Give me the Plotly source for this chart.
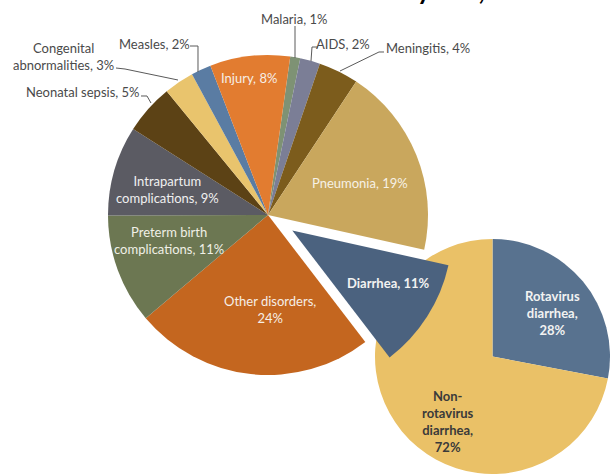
import plotly.graph_objects as go

W, H = 610, 474

# ---- data ----
causes = ["Malaria", "AIDS", "Meningitis", "Pneumonia", "Diarrhea", "Other disorders",
          "Preterm birth complications", "Intrapartum complications", "Neonatal sepsis",
          "Congenital abnormalities", "Measles", "Injury"]
shares = [1, 2, 4, 19, 11, 24, 11, 9, 5, 3, 2, 8]

diarrhea_types = ["Rotavirus diarrhea", "Non-rotavirus diarrhea"]
diarrhea_shares = [28, 72]

title_text = "Causes of child deaths under 5 years, 2008"

# ---- styling ----
main_colors = ["#7E9274", "#7B7E96", "#7C5C1C", "#C9A75D", "#4B627F", "#C4661F",
               "#6C7752", "#5B5B63", "#5C4215", "#E9C46D", "#5A7CA3", "#E27C30"]
sub_colors = ["#58728F", "#EAC167"]
pulls = [0.18 if c == "Diarrhea" else 0 for c in causes]


def px(x, y):
    return x / W, 1 - y / H


def dom(x0, y0, x1, y1):
    return dict(x=[max(0, x0 / W), min(1, x1 / W)], y=[max(0, 1 - y1 / H), min(1, 1 - y0 / H)])


fig = go.Figure()

# secondary pie (drawn first so the pulled slice sits on top)
fig.add_trace(go.Pie(
    labels=diarrhea_types, values=diarrhea_shares, sort=False,
    direction="clockwise", rotation=0,
    marker=dict(colors=sub_colors, line=dict(width=0)),
    textinfo="none", hoverinfo="label+percent", showlegend=False,
    domain=dom(375, 239, 611, 475),
))

# main pie
R = 160
cx, cy = 268, 215
half = R * (1 + max(pulls))
fig.add_trace(go.Pie(
    labels=causes, values=shares, sort=False,
    direction="clockwise", rotation=8,
    pull=pulls,
    marker=dict(colors=main_colors, line=dict(width=0)),
    textinfo="none", hoverinfo="label+percent", showlegend=False,
    domain=dom(cx - half, cy - half, cx + half, cy + half),
))

# ---- labels ----
FONT = "Lato"
templates = {
    "Congenital abnormalities": "Congenital<br>abnormalities, {v}%",
    "Preterm birth complications": "Preterm birth<br>complications, {v}%",
    "Intrapartum complications": "Intrapartum<br>complications, {v}%",
    "Other disorders": "Other disorders,<br>{v}%",
    "Rotavirus diarrhea": "Rotavirus<br>diarrhea,<br>{v}%",
    "Non-rotavirus diarrhea": "Non-<br>rotavirus<br>diarrhea,<br>{v}%",
}
label_pos = {
    "Malaria": (294, 19, "#4A4A4A", False),
    "AIDS": (343, 44, "#4A4A4A", False),
    "Meningitis": (428, 48, "#4A4A4A", False),
    "Measles": (154, 44, "#4A4A4A", False),
    "Congenital abnormalities": (63, 57, "#4A4A4A", False),
    "Neonatal sepsis": (83, 92, "#4A4A4A", False),
    "Injury": (249, 78, "#F6EEE6", False),
    "Pneumonia": (360, 183, "#F6F1E6", False),
    "Intrapartum complications": (167, 189, "#F0F0F0", False),
    "Preterm birth complications": (169, 240, "#F0F0E6", False),
    "Other disorders": (270, 309, "#F6EEE6", False),
    "Diarrhea": (388, 283, "#F2F2F2", True),
    "Rotavirus diarrhea": (552, 313, "#F2F2F2", True),
    "Non-rotavirus diarrhea": (448, 421, "#3A3A3A", True),
}

annotations = []
for name, v in list(zip(causes, shares)) + list(zip(diarrhea_types, diarrhea_shares)):
    t = templates.get(name, name + ", {v}%").format(v=v)
    x, y, col, bold = label_pos[name]
    if bold:
        t = "<b>" + t + "</b>"
    ax, ay = px(x, y)
    annotations.append(dict(x=ax, y=ay, xref="paper", yref="paper", text=t,
                            showarrow=False, xanchor="center", yanchor="middle",
                            align="center", font=dict(family=FONT, size=13, color=col)))

# title, cut off at the top edge as in the reference
tx, ty = px(553, 8)
annotations.append(dict(x=tx, y=ty, xref="paper", yref="paper", text="<b>" + title_text + "</b>",
                        showarrow=False, xanchor="right", yanchor="bottom",
                        font=dict(family="Lato", size=26, color="#000000")))

# leader lines
leaders = [
    [(295, 26), (295, 58)],
    [(318, 47), (312, 47), (311, 61)],
    [(384, 52), (379, 52), (340, 71)],
    [(190, 46), (198, 46), (198, 72)],
    [(116, 68), (125, 69), (178, 80)],
    [(141, 96), (147, 96), (151, 103)],
]
shapes = []
for pts in leaders:
    path = ""
    for i, (x, y) in enumerate(pts):
        a, b = px(x, y)
        path += ("M" if i == 0 else " L") + f" {a:.5f} {b:.5f}"
    shapes.append(dict(type="path", xref="paper", yref="paper", path=path,
                       line=dict(color="#5A5A5A", width=1)))

fig.update_layout(
    width=W, height=H,
    margin=dict(l=0, r=0, t=0, b=0),
    paper_bgcolor="white", plot_bgcolor="white",
    annotations=annotations, shapes=shapes,
    showlegend=False,
)

fig.write_html("out.html", config={"displayModeBar": False},
               post_script="document.body.style.margin='0';")
